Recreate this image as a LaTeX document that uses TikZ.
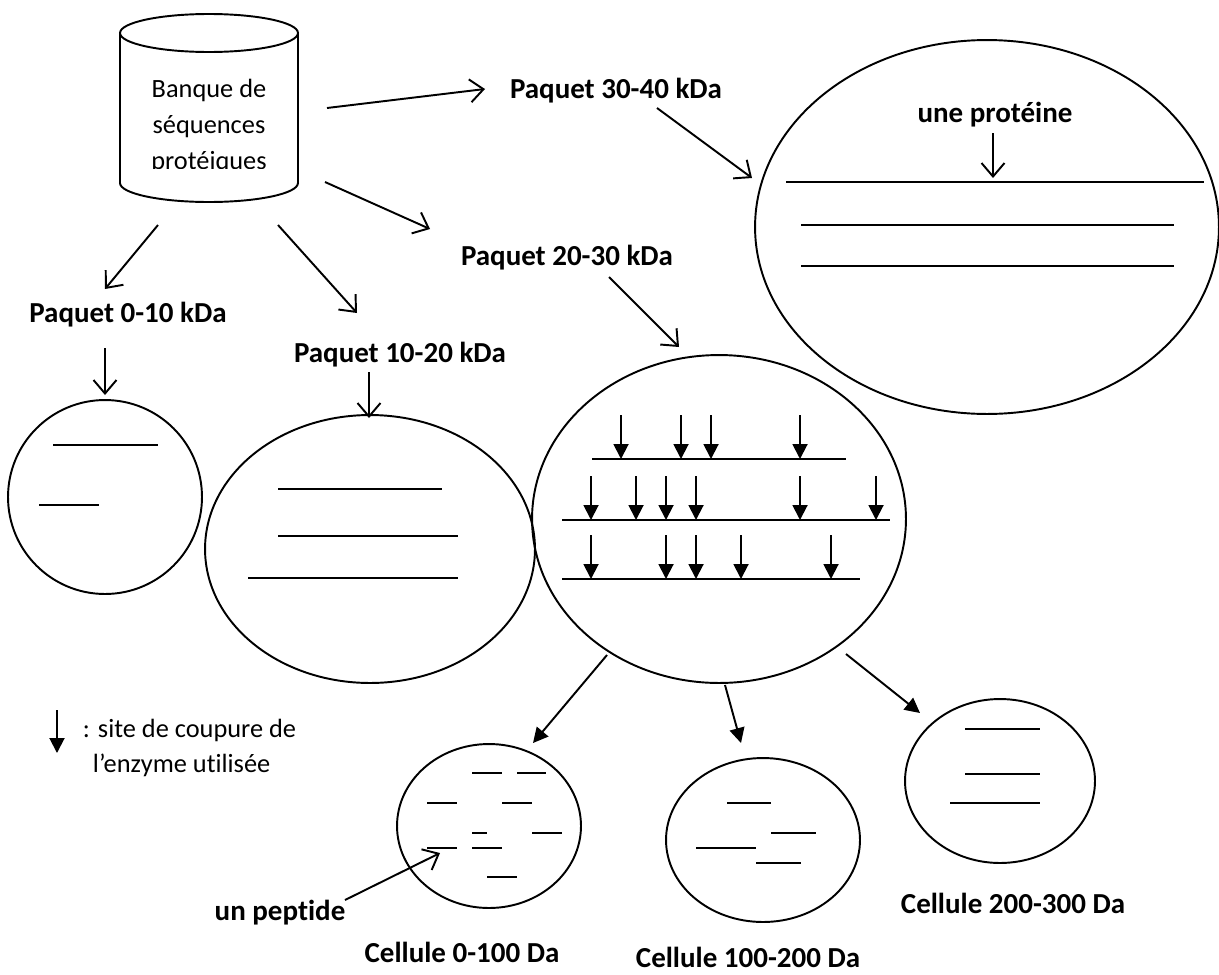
\documentclass[tikz,border=0pt]{standalone}
\usepackage{fontspec}
\setmainfont{Carlito}[Ligatures=NoCommon]
\usetikzlibrary{positioning,shapes.geometric,arrows.meta}

\begin{document}
\begin{tikzpicture}[x=0.02cm,y=-0.02cm,line width=1.1pt,
  lbl/.style={font=\fontsize{16.5}{20}\selectfont\bfseries,anchor=base,inner sep=0pt},
  txt/.style={font=\fontsize{15}{20.5}\selectfont,inner sep=0pt},
  cell/.style={draw,ellipse,inner sep=0pt,outer sep=0pt},
  open/.style={-{Straight Barb[length=2.7mm,width=4.6mm]}},
  cut/.style={-{Triangle[length=3mm,width=3mm]}}]
\useasboundingbox (0,0) rectangle (1219,974);
% banque
\draw (209,33) ellipse[x radius=1.78cm,y radius=.38cm];
\draw (120,33) -- (120,183) arc[start angle=180,end angle=360,x radius=1.78cm,y radius=.38cm] -- (298,33);
\begin{scope}
\clip (120,40) rectangle (298,168);
\node[txt,align=center] (banque) at (209,126) {Banque de\\séquences\\protéiques};
\end{scope}
% paquets
\node[lbl] (p0) at (128,322) {Paquet 0-10 kDa};
\node[lbl] (p1) at (400,362) {Paquet 10-20 kDa};
\node[lbl] (p2) at (567,265) {Paquet 20-30 kDa};
\node[lbl] (p3) at (616,98) {Paquet 30-40 kDa};
\node[cell,minimum width=3.88cm,minimum height=3.88cm] (e0) at (105,497) {};
\node[cell,minimum width=6.6cm,minimum height=5.36cm] (e1) at (370,549) {};
\node[cell,minimum width=7.48cm,minimum height=6.56cm] (e2) at (719,519) {};
\node[cell,minimum width=9.28cm,minimum height=7.48cm] (e3) at (987,227) {};
\node[lbl] (prot) at (995,122) {une protéine};
% cellules
\node[cell,minimum width=3.68cm,minimum height=3.28cm] (c0) at (489,826) {};
\node[cell,minimum width=3.88cm,minimum height=3.28cm] (c1) at (763,840) {};
\node[cell,minimum width=3.8cm,minimum height=3.28cm] (c2) at (1000,781) {};
\node[lbl] (k0) at (462,962) {Cellule 0-100 Da};
\node[lbl] (k1) at (748,967) {Cellule 100-200 Da};
\node[lbl] (k2) at (1013,913) {Cellule 200-300 Da};
\node[lbl] (pep) at (280,920) {un peptide};
% legende
\node[txt,anchor=base west] (leg1) at (82,737) {: site de coupure de};
\node[txt,anchor=base west] (leg2) at (92,772) {l’enzyme utilisée};
% bouts des fleches
\path (158,225) coordinate (b0) (105,289) coordinate (t0)
      (278,225) coordinate (b1) (357,313) coordinate (t1)
      (325,182) coordinate (b2) (430,229) coordinate (t2)
      (327,108) coordinate (b3) (485,89) coordinate (t3)
      (105,348) coordinate (q0) (105,395) coordinate (r0)
      (369,372) coordinate (q1) (369,418) coordinate (r1)
      (609,277) coordinate (q2) (679,347) coordinate (r2)
      (657,108) coordinate (q3) (752,178) coordinate (r3)
      (993,133) coordinate (s0) (993,178) coordinate (s1)
      (607,655) coordinate (d0) (533,743) coordinate (f0)
      (725,685) coordinate (d1) (741,743) coordinate (f1)
      (846,654) coordinate (d2) (920,713) coordinate (f2)
      (345,900) coordinate (u0) (440,853) coordinate (u1)
      (57,710) coordinate (l0) (57,753) coordinate (l1);
\foreach \i in {0,...,3}{
  \draw[open] (b\i) -- (t\i);
  \draw[open] (q\i) -- (r\i);
}
\draw[open] (s0) -- (s1);
\draw[open] (u0) -- (u1);
\foreach \i in {0,1,2} \draw[cut] (d\i) -- (f\i);
\draw[cut] (l0) -- (l1);
% sequences
\foreach \a/\b/\y in {53/158/445,39/99/505, 278/442/489,278/458/536,248/458/578,
  786/1204/182,801/1174/225,801/1174/266,
  472/502/773,517/546/773,427/457/803,502/532/803,472/487/833,532/562/833,427/457/848,472/502/848,487/517/877,
  727/771/803,771/816/833,696/756/848,756/801/863,
  965/1040/729,965/1040/774,950/1040/803}
  \draw (\a,\y) -- (\b,\y);
% sites de coupure
\foreach \y/\a/\b/\cuts in {459/592/846/{621,681,711,800},520/562/890/{591,636,666,696,800,876},579/562/860/{591,666,696,741,831}}{
  \draw (\a,\y) -- (\b,\y);
  \foreach \c in \cuts \draw[cut] (\c,\y-44) -- (\c,\y);
}
\end{tikzpicture}
\end{document}
